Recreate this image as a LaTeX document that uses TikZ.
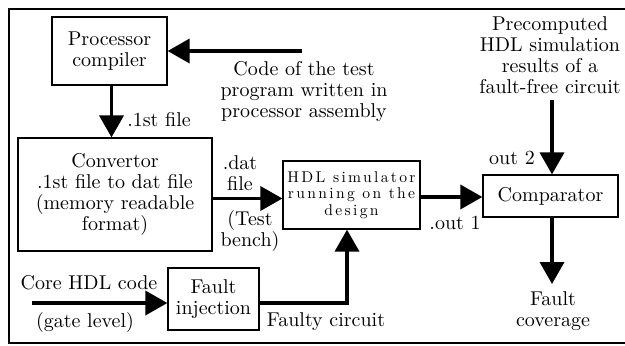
\documentclass[tikz,border=0pt]{standalone}
\usepackage{fontspec}
\usetikzlibrary{arrows.meta}
\newfontfamily\hdlfam{lmroman10-regular.otf}[LetterSpace=15]
\newcommand{\hdlfont}{\hdlfam\fontsize{7.8}{8.3}\selectfont}
\begin{document}
\begin{tikzpicture}[x=0.5pt,y=-0.5pt,
  font=\fontsize{10}{10.5}\selectfont,
  box/.style={draw,line width=0.6pt,rectangle,align=center,inner sep=0pt},
  lbl/.style={align=center,inner sep=0pt},
  arr/.style={line width=1.8pt,-{Triangle[length=11pt,width=12pt]}},
  frame/.style={line width=0.7pt}]
\useasboundingbox (0,0) rectangle (625,345);
\draw[frame] (625,9) -- (9,9) -- (9,343) -- (625,343);

% boxes
\node[box,minimum width=57.5pt,minimum height=34pt] (pc) at (109.5,51) {Processor\\compiler};
\node[box,minimum width=97pt,minimum height=56.5pt] (conv) at (115,194.5) {Convertor\\.1st file to dat file\\(memory readable\\format)};
\node[box,minimum width=68.5pt,minimum height=34pt,font=\hdlfont] (hdl) at (351.5,195) {HDL simulator\\running on the\\design};
\node[box,minimum width=67.5pt,minimum height=21pt] (comp) at (550.5,196) {Comparator};
\node[box,minimum width=45.5pt,minimum height=31pt] (fi) at (213.5,299) {Fault\\injection};

% labels
\node[lbl] (code) at (304,91) {Code of the test\\program written in\\processor assembly};
\node[lbl] (lst) at (159,120) {.1st file};
\node[lbl] (dat) at (240,173) {.dat\\file};
\node[lbl] (tb) at (250,231) {(Test\\bench)};
\node[lbl] (o1) at (455,223) {.out 1};
\node[lbl] (o2) at (512,158) {out 2};
\node[lbl] (pre) at (550,55) {Precomputed\\HDL simulation\\results of a\\fault-free circuit};
\node[lbl] (fc) at (553,311) {Fault\\coverage};
\node[lbl] (core) at (89,283) {Core HDL code};
\node[lbl] (gate) at (85,322) {(gate level)};
\node[lbl] (faulty) at (326,322) {Faulty circuit};

% connectors
\coordinate (c0) at (302,51);
\draw[arr] (c0) -- (pc.east);
\draw[arr] ([xshift=1pt]pc.south) -- ([xshift=1pt]pc.south |- conv.north);
\draw[arr] ([yshift=-2pt]conv.east) -- ([yshift=-2pt]conv.east -| hdl.west);
\draw[arr] ([yshift=-1pt]hdl.east) -- ([yshift=-1pt]hdl.east -| comp.west);
\coordinate (p0) at (552,100);
\draw[arr] (p0) -- (p0 |- comp.north);
\coordinate (f1) at (552,284);
\draw[arr] (f1 |- comp.south) -- (f1);
\coordinate (k0) at (32,303);
\draw[arr] (k0) -- (k0 -| fi.west);
\coordinate (h0) at (347,303);
\draw[arr] (fi.east |- h0) -- (h0) -- (h0 |- hdl.south);
\end{tikzpicture}
\end{document}
